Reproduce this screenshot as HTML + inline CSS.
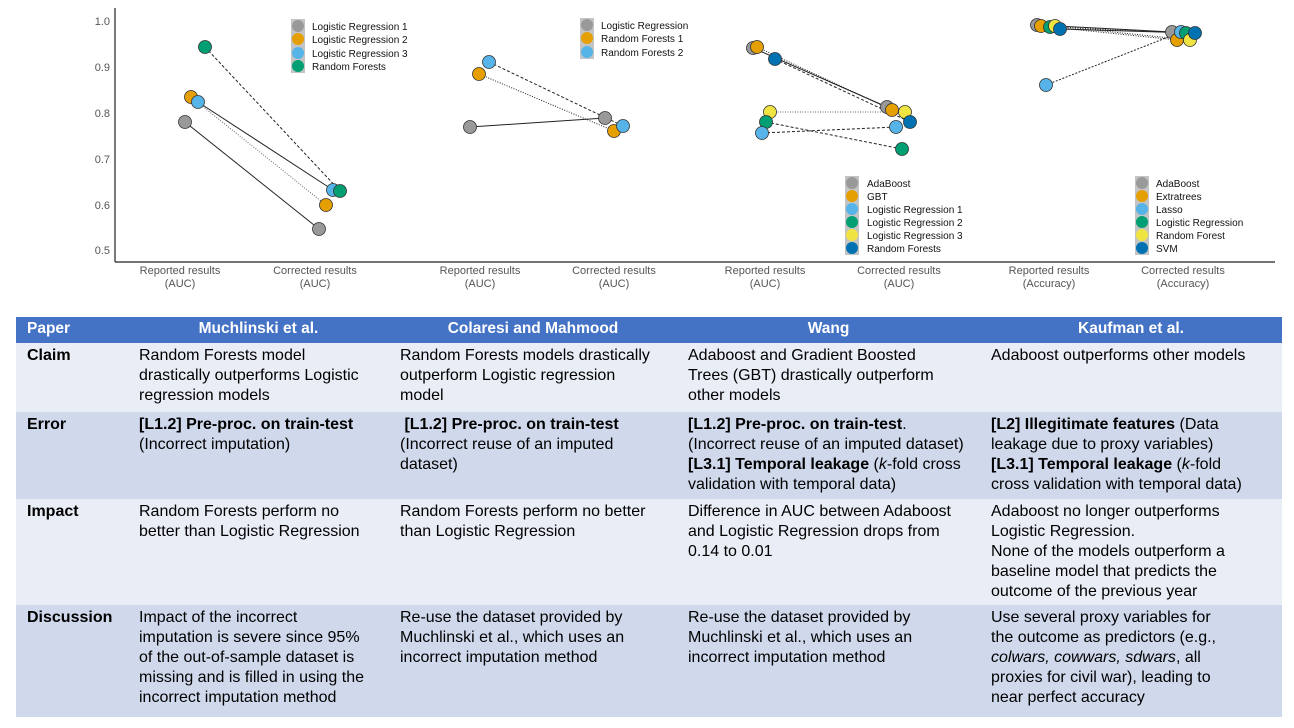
<!DOCTYPE html>
<html><head><meta charset="utf-8"><style>
body{margin:0;width:1294px;height:728px;background:#fff;font-family:"Liberation Sans",sans-serif;position:relative;overflow:hidden}
svg{position:absolute;left:0;top:0}
table{position:absolute;left:16px;top:317px;width:1266px;border-collapse:collapse;font-size:16px;line-height:20px;color:#000;table-layout:fixed}
td,th{vertical-align:top;padding:3px 0 0 11px;text-align:left;white-space:nowrap;overflow:hidden}
th{background:#4472c4;color:#fff;font-weight:bold;height:24px;text-align:center;padding:2px 0 0 0;font-size:15.5px}
th:first-child{text-align:left;padding-left:11px}
tr.a td{background:#e9edf6}
tr.b td{background:#d0d9ec}
td:first-child{font-weight:bold}
</style></head><body>
<svg width="1294" height="310" font-family="Liberation Sans, sans-serif">
<g fill="#555" font-size="11" text-anchor="end">
<text x="110" y="25">1.0</text><text x="110" y="71">0.9</text><text x="110" y="117">0.8</text><text x="110" y="163">0.7</text><text x="110" y="209">0.6</text><text x="110" y="254">0.5</text>
</g>
<line x1="115" y1="8" x2="115" y2="262" stroke="#222" stroke-width="1.2"/>
<line x1="115" y1="262" x2="1275" y2="262" stroke="#222" stroke-width="1.2"/>
<g fill="#555" font-size="11" text-anchor="middle">
<text x="180" y="274">Reported results</text><text x="180" y="287">(AUC)</text>
<text x="315" y="274">Corrected results</text><text x="315" y="287">(AUC)</text>
<text x="480" y="274">Reported results</text><text x="480" y="287">(AUC)</text>
<text x="614" y="274">Corrected results</text><text x="614" y="287">(AUC)</text>
<text x="765" y="274">Reported results</text><text x="765" y="287">(AUC)</text>
<text x="899" y="274">Corrected results</text><text x="899" y="287">(AUC)</text>
<text x="1049" y="274">Reported results</text><text x="1049" y="287">(Accuracy)</text>
<text x="1183" y="274">Corrected results</text><text x="1183" y="287">(Accuracy)</text>
</g>
<g stroke="#222" fill="none" stroke-width="1">
<line x1="185" y1="122" x2="319" y2="229"/>
<line x1="191" y1="97" x2="326" y2="205" stroke-dasharray="1,1.5" stroke="#666"/>
<line x1="198" y1="102" x2="333" y2="190"/>
<line x1="205" y1="47" x2="340" y2="191" stroke-dasharray="3,2"/>
<line x1="470" y1="127" x2="605" y2="118"/>
<line x1="479" y1="74" x2="614" y2="131" stroke-dasharray="1,1.5"/>
<line x1="489" y1="62" x2="623" y2="126" stroke-dasharray="3,2"/>
<line x1="753" y1="48" x2="887" y2="107"/>
<line x1="757" y1="47" x2="892" y2="110" stroke-dasharray="1,1.5"/>
<line x1="775" y1="59" x2="910" y2="122" stroke-dasharray="3,2"/>
<line x1="770" y1="112" x2="905" y2="112" stroke-dasharray="1,1.5" stroke="#666"/>
<line x1="766" y1="122" x2="902" y2="149" stroke-dasharray="3,2"/>
<line x1="762" y1="133" x2="896" y2="127" stroke-dasharray="3,2"/>
<line x1="1037" y1="25" x2="1172" y2="32"/>
<line x1="1041" y1="26" x2="1177" y2="40" stroke-dasharray="1,1.5"/>
<line x1="1050" y1="27" x2="1186" y2="33" stroke-dasharray="1,1.5"/>
<line x1="1055" y1="26" x2="1190" y2="40" stroke-dasharray="1,1.5"/>
<line x1="1060" y1="29" x2="1195" y2="33"/>
<line x1="1046" y1="85" x2="1181" y2="32" stroke-dasharray="2,1.5"/>
</g>
<g stroke="#333" stroke-width="0.8">
<circle cx="185" cy="122" r="6.5" fill="#999"/><circle cx="191" cy="97" r="6.5" fill="#E69F00"/><circle cx="198" cy="102" r="6.5" fill="#56B4E9"/><circle cx="205" cy="47" r="6.5" fill="#009E73"/>
<circle cx="319" cy="229" r="6.5" fill="#999"/><circle cx="326" cy="205" r="6.5" fill="#E69F00"/><circle cx="333" cy="190" r="6.5" fill="#56B4E9"/><circle cx="340" cy="191" r="6.5" fill="#009E73"/>
<circle cx="470" cy="127" r="6.5" fill="#999"/><circle cx="479" cy="74" r="6.5" fill="#E69F00"/><circle cx="489" cy="62" r="6.5" fill="#56B4E9"/>
<circle cx="605" cy="118" r="6.5" fill="#999"/><circle cx="614" cy="131" r="6.5" fill="#E69F00"/><circle cx="623" cy="126" r="6.5" fill="#56B4E9"/>
<circle cx="753" cy="48" r="6.5" fill="#999"/><circle cx="757" cy="47" r="6.5" fill="#E69F00"/><circle cx="775" cy="59" r="6.5" fill="#0072B2"/><circle cx="770" cy="112" r="6.5" fill="#F0E442"/><circle cx="766" cy="122" r="6.5" fill="#009E73"/><circle cx="762" cy="133" r="6.5" fill="#56B4E9"/>
<circle cx="887" cy="107" r="6.5" fill="#999"/><circle cx="892" cy="110" r="6.5" fill="#E69F00"/><circle cx="905" cy="112" r="6.5" fill="#F0E442"/><circle cx="910" cy="122" r="6.5" fill="#0072B2"/><circle cx="896" cy="127" r="6.5" fill="#56B4E9"/><circle cx="902" cy="149" r="6.5" fill="#009E73"/>
<circle cx="1037" cy="25" r="6.5" fill="#999"/><circle cx="1041" cy="26" r="6.5" fill="#E69F00"/><circle cx="1050" cy="27" r="6.5" fill="#009E73"/><circle cx="1055" cy="26" r="6.5" fill="#F0E442"/><circle cx="1060" cy="29" r="6.5" fill="#0072B2"/><circle cx="1046" cy="85" r="6.5" fill="#56B4E9"/>
<circle cx="1172" cy="32" r="6.5" fill="#999"/><circle cx="1177" cy="40" r="6.5" fill="#E69F00"/><circle cx="1181" cy="32" r="6.5" fill="#56B4E9"/><circle cx="1186" cy="33" r="6.5" fill="#009E73"/><circle cx="1190" cy="40" r="6.5" fill="#F0E442"/><circle cx="1195" cy="33" r="6.5" fill="#0072B2"/>
</g>
<g font-size="10" fill="#111">
<rect x="291" y="19" width="14" height="54" fill="#c4c4c4"/>
<circle cx="298" cy="26" r="6" fill="#999"/><circle cx="298" cy="39" r="6" fill="#E69F00"/><circle cx="298" cy="53" r="6" fill="#56B4E9"/><circle cx="298" cy="66" r="6" fill="#009E73"/>
<text x="312" y="30">Logistic Regression 1</text><text x="312" y="43">Logistic Regression 2</text><text x="312" y="57">Logistic Regression 3</text><text x="312" y="70">Random Forests</text>
<rect x="580" y="18" width="14" height="41" fill="#c4c4c4"/>
<circle cx="587" cy="25" r="6" fill="#999"/><circle cx="587" cy="38" r="6" fill="#E69F00"/><circle cx="587" cy="52" r="6" fill="#56B4E9"/>
<text x="601" y="29">Logistic Regression</text><text x="601" y="42">Random Forests 1</text><text x="601" y="56">Random Forests 2</text>
<rect x="845" y="176" width="14" height="79" fill="#c4c4c4"/>
<circle cx="852" cy="183" r="6" fill="#999"/><circle cx="852" cy="196" r="6" fill="#E69F00"/><circle cx="852" cy="209" r="6" fill="#56B4E9"/><circle cx="852" cy="222" r="6" fill="#009E73"/><circle cx="852" cy="235" r="6" fill="#F0E442"/><circle cx="852" cy="248" r="6" fill="#0072B2"/>
<text x="867" y="187">AdaBoost</text><text x="867" y="200">GBT</text><text x="867" y="213">Logistic Regression 1</text><text x="867" y="226">Logistic Regression 2</text><text x="867" y="239">Logistic Regression 3</text><text x="867" y="252">Random Forests</text>
<rect x="1135" y="176" width="14" height="79" fill="#c4c4c4"/>
<circle cx="1142" cy="183" r="6" fill="#999"/><circle cx="1142" cy="196" r="6" fill="#E69F00"/><circle cx="1142" cy="209" r="6" fill="#56B4E9"/><circle cx="1142" cy="222" r="6" fill="#009E73"/><circle cx="1142" cy="235" r="6" fill="#F0E442"/><circle cx="1142" cy="248" r="6" fill="#0072B2"/>
<text x="1156" y="187">AdaBoost</text><text x="1156" y="200">Extratrees</text><text x="1156" y="213">Lasso</text><text x="1156" y="226">Logistic Regression</text><text x="1156" y="239">Random Forest</text><text x="1156" y="252">SVM</text>
</g>
</svg>
<table>
<colgroup><col style="width:112px"><col style="width:261px"><col style="width:288px"><col style="width:303px"><col style="width:302px"></colgroup>
<tr><th>Paper</th><th>Muchlinski et al.</th><th>Colaresi and Mahmood</th><th>Wang</th><th>Kaufman et al.</th></tr>
<tr class="a" style="height:69px"><td>Claim</td><td>Random Forests model<br>drastically outperforms Logistic<br>regression models</td><td>Random Forests models drastically<br>outperform Logistic regression<br>model</td><td>Adaboost and Gradient Boosted<br>Trees (GBT) drastically outperform<br>other models</td><td>Adaboost outperforms other models</td></tr>
<tr class="b" style="height:87px"><td>Error</td><td><b>[L1.2] Pre-proc. on train-test</b><br>(Incorrect imputation)</td><td><b>&nbsp;[L1.2] Pre-proc. on train-test</b><br>(Incorrect reuse of an imputed<br>dataset)</td><td><b>[L1.2] Pre-proc. on train-test</b>.<br>(Incorrect reuse of an imputed dataset)<br><b>[L3.1] Temporal leakage</b> (<i>k</i>-fold cross<br>validation with temporal data)</td><td><b>[L2] Illegitimate features</b> (Data<br>leakage due to proxy variables)<br><b>[L3.1] Temporal leakage</b> (<i>k</i>-fold<br>cross validation with temporal data)</td></tr>
<tr class="a" style="height:106px"><td>Impact</td><td>Random Forests perform no<br>better than Logistic Regression</td><td>Random Forests perform no better<br>than Logistic Regression</td><td>Difference in AUC between Adaboost<br>and Logistic Regression drops from<br>0.14 to 0.01</td><td>Adaboost no longer outperforms<br>Logistic Regression.<br>None of the models outperform a<br>baseline model that predicts the<br>outcome of the previous year</td></tr>
<tr class="b" style="height:112px"><td>Discussion</td><td>Impact of the incorrect<br>imputation is severe since 95%<br>of the out-of-sample dataset is<br>missing and is filled in using the<br>incorrect imputation method</td><td>Re-use the dataset provided by<br>Muchlinski et al., which uses an<br>incorrect imputation method</td><td>Re-use the dataset provided by<br>Muchlinski et al., which uses an<br>incorrect imputation method</td><td>Use several proxy variables for<br>the outcome as predictors (e.g.,<br><i>colwars, cowwars, sdwars</i>, all<br>proxies for civil war), leading to<br>near perfect accuracy</td></tr>
</table>
</body></html>
